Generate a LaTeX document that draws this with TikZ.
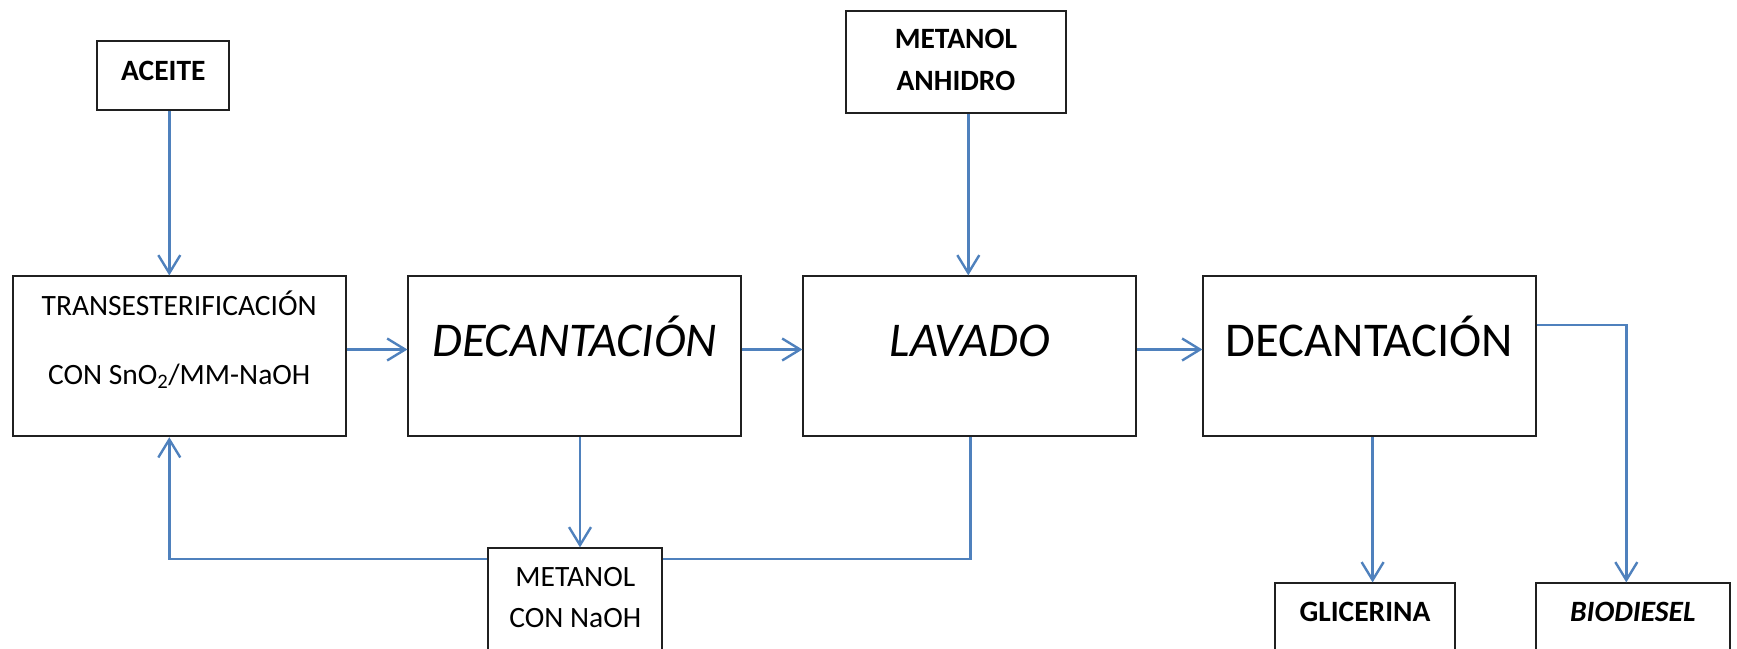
\documentclass[tikz,border=0pt]{standalone}
\usepackage{fontspec}
\setmainfont{Carlito}
\usetikzlibrary{arrows.meta}
\definecolor{flowblue}{HTML}{4F81BD}
\definecolor{boxline}{HTML}{202020}
\newcommand{\smallsz}{\fontsize{29.5}{35}\selectfont}
\newcommand{\bigsz}{\fontsize{48.5}{58}\selectfont}
\tikzset{
  box/.style={draw=boxline, line width=1.8pt, fill=white, inner sep=0pt},
  flow/.style={draw=flowblue, line width=2.6pt},
  flowarr/.style={flow, -{Straight Barb[length=18pt,width=22pt,line width=2.4pt]}},
  small/.style={font=\smallsz, anchor=base, inner sep=0pt},
  smallbf/.style={font=\smallsz\bfseries, anchor=base, inner sep=0pt},
  big/.style={font=\bigsz, anchor=base, inner sep=0pt},
}
\begin{document}
\begin{tikzpicture}[x=1pt,y=-1pt]
\useasboundingbox (0,0) rectangle (1737,648);
\clip (0,0) rectangle (1737,648);
% boxes
\node[box, minimum width=132pt, minimum height=68.7pt] (aceite) at (163.3,75.7) {};
\node[box, minimum width=333pt, minimum height=160pt] (trans) at (179.2,356.3) {};
\node[box, minimum width=332.7pt, minimum height=160pt] (dec1) at (574.7,356.3) {};
\node[box, minimum width=332.7pt, minimum height=160pt] (lav) at (969.7,356.3) {};
\node[box, minimum width=332.4pt, minimum height=160pt] (dec2) at (1369.5,356.3) {};
\node[box, minimum width=220.3pt, minimum height=102.6pt] (mah) at (955.9,62) {};
\node[box, minimum width=174pt, minimum height=130pt] (mcn) at (575.3,613.3) {};
\node[box, minimum width=180pt, minimum height=100pt] (gli) at (1365,633.3) {};
\node[box, minimum width=194.3pt, minimum height=100pt] (bio) at (1632.8,633.3) {};
% texts
\node[smallbf] (taceite) at (163.3,80) {ACEITE};
\node[small] (ttrans1) at (179.2,315) {TRANSESTERIFICACIÓN};
\node[small] (ttrans2) at (179.2,384) {CON SnO\textsubscript{2}/MM-NaOH};
\node[big, font=\bigsz\itshape] (tdec1) at (574.7,356) {DECANTACIÓN};
\node[big, font=\bigsz\itshape] (tlav) at (969.7,356) {LAVADO};
\node[big] (tdec2) at (1369.5,356) {DECANTACIÓN};
\node[smallbf] (tmah1) at (955.9,48.3) {METANOL};
\node[smallbf] (tmah2) at (955.9,90) {ANHIDRO};
\node[small] (tmcn1) at (575.3,586.7) {METANOL};
\node[small] (tmcn2) at (575.3,627.7) {CON NaOH};
\node[smallbf] (tgli) at (1365,621.7) {GLICERINA};
\node[smallbf, font=\smallsz\bfseries\itshape] (tbio) at (1632.8,621.7) {BIODIESEL};
% helper coordinates
\coordinate (xa) at (169.3,0);
\coordinate (xm) at (968.3,0);
\coordinate (xl) at (970.7,0);
\coordinate (xd) at (580,0);
\coordinate (xg) at (1372.6,0);
\coordinate (xb) at (1626.3,0);
\coordinate (ym) at (0,349.5);
\coordinate (yr) at (0,559);
\coordinate (yt) at (0,325);
% connectors
\draw[flowarr] (aceite.south -| xa) -- (trans.north -| xa);
\draw[flowarr] (mah.south -| xm) -- (lav.north -| xm);
\draw[flowarr] (trans.east |- ym) -- (dec1.west |- ym);
\draw[flowarr] (dec1.east |- ym) -- (lav.west |- ym);
\draw[flowarr] (lav.east |- ym) -- (dec2.west |- ym);
\draw[flowarr] (dec1.south -| xd) -- (mcn.north -| xd);
\draw[flow] (lav.south -| xl) -- (xl |- yr) -- (mcn.east |- yr);
\draw[flowarr] (mcn.west |- yr) -- (xa |- yr) -- (trans.south -| xa);
\draw[flowarr] (dec2.south -| xg) -- (gli.north -| xg);
\draw[flowarr] (dec2.east |- yt) -- (xb |- yt) -- (bio.north -| xb);
\end{tikzpicture}
\end{document}
